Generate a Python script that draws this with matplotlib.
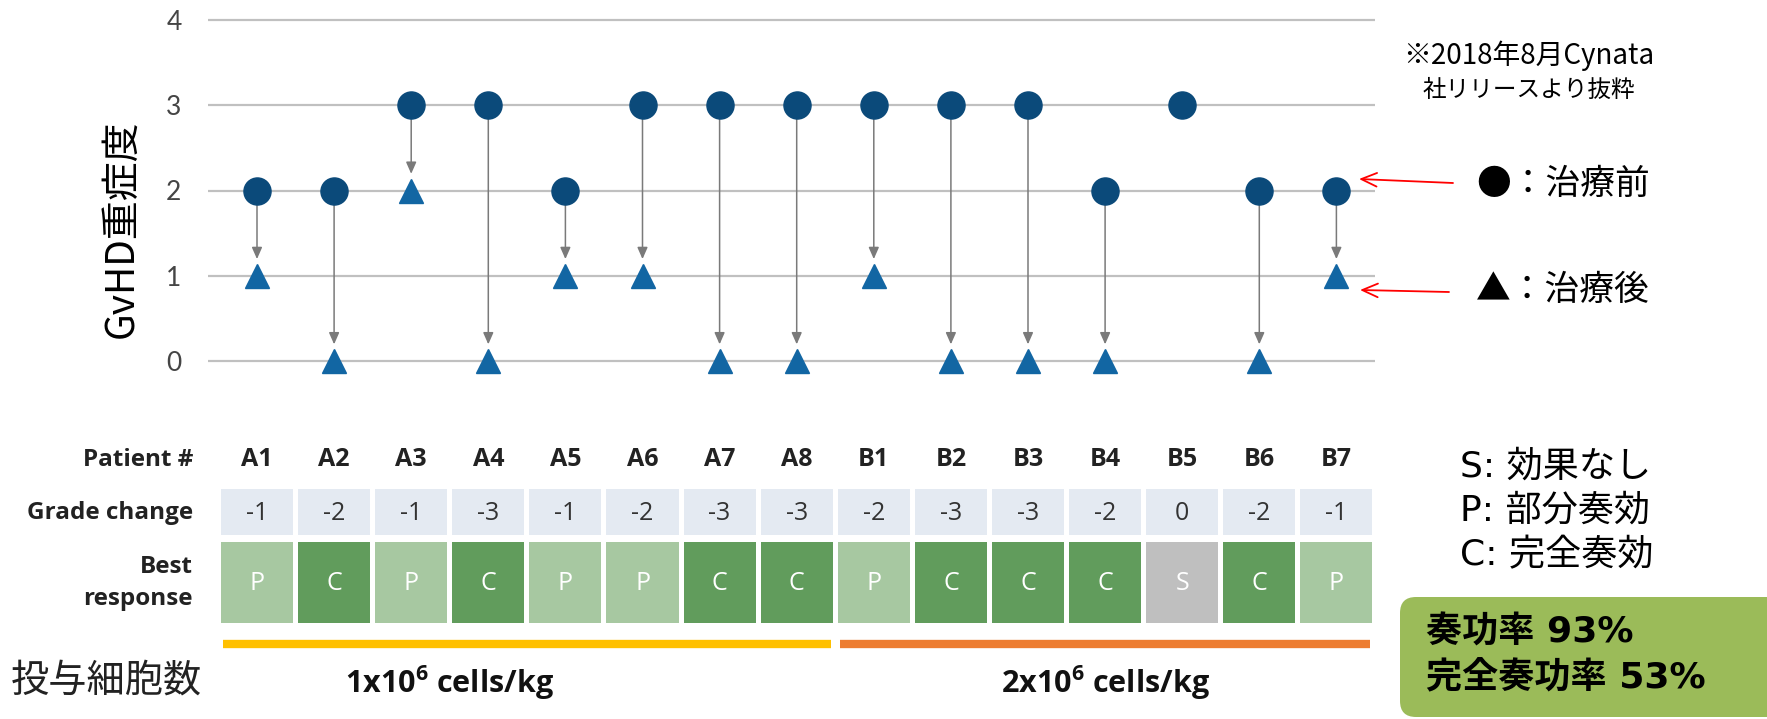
import matplotlib
matplotlib.use("Agg")
import matplotlib.pyplot as plt
from matplotlib.patches import Rectangle, FancyBboxPatch

plt.rcParams['font.family'] = ['Noto Sans CJK JP', 'DejaVu Sans']
plt.rcParams['mathtext.fontset'] = 'custom'
plt.rcParams['mathtext.rm'] = 'Open Sans'
plt.rcParams['mathtext.bf'] = 'Open Sans:bold'

# データ
patients = ['A1', 'A2', 'A3', 'A4', 'A5', 'A6', 'A7', 'A8',
            'B1', 'B2', 'B3', 'B4', 'B5', 'B6', 'B7']
before = [2, 2, 3, 3, 2, 3, 3, 3, 3, 3, 3, 2, 3, 2, 2]   # 治療前
after = [1, 0, 2, 0, 1, 1, 0, 0, 1, 0, 0, 0, 3, 0, 1]    # 治療後
grade_change = [-1, -2, -1, -3, -1, -2, -3, -3, -2, -3, -3, -2, 0, -2, -1]
best_response = ['P', 'C', 'P', 'C', 'P', 'P', 'C', 'C',
                 'P', 'C', 'C', 'C', 'S', 'C', 'P']
group_labels = [r'1x$\mathbf{10^{6}}$ cells/kg', r'2x$\mathbf{10^{6}}$ cells/kg']
group_first = [0, 8]
group_last = [7, 14]
group_label_x = [2.5, 11]
group_colors = ['#ffc000', '#ed7d31']
resp_colors = {'P': '#a7c8a1', 'C': '#619c5c', 'S': '#bfbfbf'}

W, H = 1767, 719
x0, dx = 257, 77.1      # A1 の位置と患者間隔 (px)
y0, dy = 361, 85.25     # grade 0 の位置と 1 段の高さ (px)

fig = plt.figure(figsize=(W / 100, H / 100), dpi=100)

# 表用の軸: x は患者番号, y はピクセル
tax = fig.add_axes([0, 0, 1, 1])
tax.set_xlim(-x0 / dx, (W - x0) / dx)
tax.set_ylim(H, 0)
tax.axis('off')

# 上の点グラフ
ax = fig.add_axes([208 / W, 1 - 380 / H, 1167 / W, 368 / H])
ax.set_facecolor('none')
ax.set_xlim((208 - x0) / dx, (1375 - x0) / dx)
ax.set_ylim((y0 - 380) / dy, (y0 - 12) / dy)
ax.set_yticks(range(5))
ax.set_xticks([])
ax.tick_params(axis='y', length=0, pad=19, labelsize=19, labelcolor='#454545')
for lab in ax.get_yticklabels():
    lab.set_family(['Lato', 'DejaVu Sans'])
ax.yaxis.grid(True, color='#c0c0c0', lw=1.6)
ax.set_axisbelow(True)
for s in ax.spines.values():
    s.set_visible(False)

xs = list(range(len(patients)))
changed = [i for i in xs if before[i] != after[i]]
for i in changed:
    ax.annotate('', xy=(i, after[i]), xytext=(i, before[i]),
                arrowprops=dict(arrowstyle='-|>,head_length=0.5,head_width=0.22',
                                color='#7a7a7a', lw=1.1, shrinkA=0, shrinkB=12,
                                mutation_scale=14), zorder=2)
# 変化なし (B5) は治療前の点だけが見える
ax.plot(changed, [after[i] for i in changed], '^', color='#1266a3', markersize=17,
        ls='none', zorder=3)
ax.plot(xs, before, 'o', color='#0b4a7a', markersize=19.5, ls='none', zorder=4)

fig.text(122 / W, 1 - 229 / H, 'GvHD重症度', rotation=90, ha='center', va='center',
         fontsize=28)

# 凡例と赤矢印
fig.text(1529 / W, 1 - 56 / H, '※2018年8月Cynata', ha='center', va='center', fontsize=20)
fig.text(1529 / W, 1 - 90 / H, '社リリースより抜粋', ha='center', va='center', fontsize=17)
fig.text(1476 / W, 1 - 184 / H, '●：治療前', ha='left', va='center', fontsize=25)
fig.text(1476 / W, 1 - 290 / H, '▲：治療後', ha='left', va='center', fontsize=25)
ax.annotate('', xy=((1359 - x0) / dx, (y0 - 179) / dy), xycoords='data',
            xytext=(1453, H - 183), textcoords='figure pixels',
            arrowprops=dict(arrowstyle='->,head_length=0.8,head_width=0.35',
                            color='red', lw=1.3, shrinkA=0, shrinkB=0, mutation_scale=14),
            annotation_clip=False)
ax.annotate('', xy=((1360 - x0) / dx, (y0 - 290) / dy), xycoords='data',
            xytext=(1449, H - 292), textcoords='figure pixels',
            arrowprops=dict(arrowstyle='->,head_length=0.8,head_width=0.35',
                            color='red', lw=1.3, shrinkA=0, shrinkB=0, mutation_scale=14),
            annotation_clip=False)

# 表
lat = ['Open Sans', 'DejaVu Sans']
cw = 0.934
tax.text(-0.83, 460, 'Patient #', ha='right', va='center', fontsize=17.5,
         fontweight='bold', family=lat, color='#222222')
tax.text(-0.83, 513, 'Grade change', ha='right', va='center', fontsize=17.5,
         fontweight='bold', family=lat, color='#222222')
tax.text(-0.83, 583, 'Best\nresponse', ha='right', va='center', fontsize=17.5,
         fontweight='bold', family=lat, color='#222222', linespacing=1.4)
for i in xs:
    tax.text(i, 460, patients[i], ha='center', va='center', fontsize=18,
             fontweight='bold', family=lat, color='#222222')
    tax.add_patch(Rectangle((i - cw / 2, 489), cw, 46, color='#e4eaf2', lw=0))
    tax.text(i, 513, str(grade_change[i]), ha='center', va='center', fontsize=18,
             family=lat, color='#333333')
    tax.add_patch(Rectangle((i - cw / 2, 542), cw, 81, color=resp_colors[best_response[i]], lw=0))
    tax.text(i, 583, best_response[i], ha='center', va='center', fontsize=18,
             family=lat, color='white')

for k in range(len(group_labels)):
    tax.plot([group_first[k] - 0.44, group_last[k] + 0.44], [644, 644],
             color=group_colors[k], lw=6, solid_capstyle='butt')
    tax.text(group_label_x[k], 683, group_labels[k], ha='center', va='center',
             fontsize=22, fontweight='bold', family=lat, color='#111111')

fig.text(11 / W, 1 - 681 / H, '投与細胞数', ha='left', va='center', fontsize=27.5,
         color='#222222')

# 右下の凡例と奏功率
mix = ['DejaVu Sans', 'Noto Sans CJK JP']
fig.text(1460 / W, 1 - 467 / H, 'S: 効果なし', ha='left', va='center', fontsize=26, family=mix)
fig.text(1460 / W, 1 - 511 / H, 'P: 部分奏効', ha='left', va='center', fontsize=26, family=mix)
fig.text(1460 / W, 1 - 555 / H, 'C: 完全奏効', ha='left', va='center', fontsize=26, family=mix)
box = FancyBboxPatch((14.0, 0.02), 3.9, 1.2, boxstyle='round,pad=0,rounding_size=0.16',
                     transform=fig.dpi_scale_trans, facecolor='#9bbb59', edgecolor='none')
fig.patches.append(box)
fig.text(1426 / W, 1 - 632 / H, '奏功率 93%', ha='left', va='center', fontsize=26,
         fontweight='bold', family=mix)
fig.text(1426 / W, 1 - 677 / H, '完全奏功率 53%', ha='left', va='center', fontsize=26,
         fontweight='bold', family=mix)

fig.savefig('out.png', dpi=100)
